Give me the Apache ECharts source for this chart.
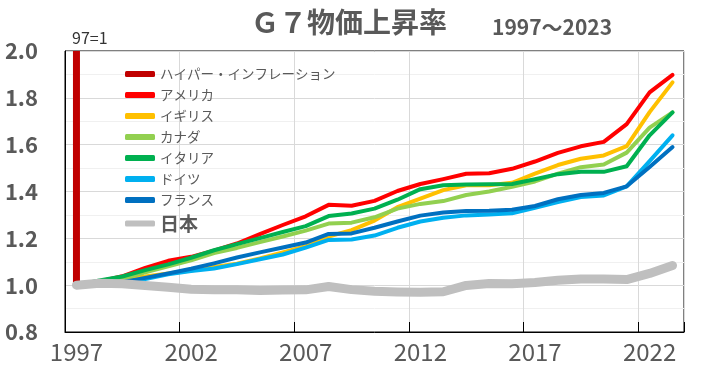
<!DOCTYPE html>
<html>
<head>
<meta charset="utf-8">
<script src="https://cdn.jsdelivr.net/npm/echarts@6/dist/echarts.min.js"></script>
<style>
html,body{margin:0;padding:0;background:#fff;}
#chart{width:705px;height:379px;}
</style>
</head>
<body>
<div id="chart"></div>
<script>
const years = ['1997','1998','1999','2000','2001','2002','2003','2004','2005','2006','2007','2008','2009','2010','2011','2012','2013','2014','2015','2016','2017','2018','2019','2020','2021','2022','2023'];
const seriesNames = ['ハイパー・インフレーション','アメリカ','イギリス','カナダ','イタリア','ドイツ','フランス','日本'];
const hyper = [1.0, 2.0];
const us = [1.000,1.016,1.038,1.074,1.104,1.121,1.147,1.178,1.218,1.257,1.294,1.343,1.339,1.360,1.402,1.432,1.453,1.476,1.478,1.497,1.528,1.565,1.593,1.612,1.688,1.823,1.898];
const uk = [1.000,1.016,1.029,1.037,1.050,1.063,1.078,1.092,1.114,1.140,1.166,1.208,1.235,1.276,1.333,1.370,1.406,1.427,1.427,1.437,1.476,1.513,1.540,1.554,1.594,1.739,1.866];
const canada = [1.000,1.010,1.027,1.055,1.081,1.106,1.137,1.159,1.184,1.208,1.233,1.263,1.267,1.290,1.327,1.347,1.359,1.385,1.400,1.420,1.443,1.476,1.504,1.515,1.566,1.673,1.738];
const italy = [1.000,1.020,1.037,1.064,1.089,1.117,1.149,1.175,1.201,1.227,1.252,1.295,1.306,1.327,1.365,1.410,1.427,1.430,1.431,1.432,1.452,1.474,1.484,1.484,1.508,1.640,1.738];
const germany = [1.000,1.006,1.012,1.026,1.046,1.060,1.071,1.090,1.111,1.131,1.160,1.193,1.195,1.212,1.245,1.272,1.288,1.298,1.302,1.307,1.330,1.355,1.376,1.383,1.422,1.530,1.640];
const france = [1.000,1.007,1.013,1.031,1.050,1.070,1.093,1.118,1.140,1.161,1.182,1.219,1.221,1.245,1.272,1.297,1.310,1.317,1.318,1.322,1.338,1.367,1.385,1.394,1.422,1.505,1.590];
const japan = [1.000,1.008,1.006,0.999,0.991,0.983,0.980,0.980,0.977,0.979,0.980,0.994,0.981,0.974,0.971,0.970,0.972,0.999,1.007,1.006,1.011,1.021,1.026,1.026,1.024,1.050,1.084];
const yTicks = {min: 0.8, max: 2.0, interval: 0.2};

const colors = ['#c00000','#ff0000','#ffc000','#92d050','#00b050','#00b0f0','#0070c0','#bfbfbf'];
const FONT = '"Noto Sans CJK JP", "Noto Sans", sans-serif';

function lineSeries(name, data, color, width, cap) {
  return {
    name: name, type: 'line', data: data, symbol: 'none', color: color,
    lineStyle: {width: width, color: color, cap: cap || 'round', join: 'round'},
    emphasis: {disabled: true}, animation: false
  };
}

const chart = echarts.init(document.getElementById('chart'));
chart.setOption({
  animation: false,
  textStyle: {fontFamily: FONT},
  title: [
    {text: 'Ｇ７物価上昇率', left: 246, top: 3, textStyle: {fontFamily: FONT, fontSize: 28, fontWeight: 'bold', color: '#595959'}},
    {text: '1997～2023', left: 487, top: 12, textStyle: {fontFamily: FONT, fontSize: 21, fontWeight: 'bold', color: '#595959'}},
    {text: '97=1', left: 67, top: 25, textStyle: {fontFamily: FONT, fontSize: 16, fontWeight: 'normal', color: '#333333'}}
  ],
  legend: {
    orient: 'vertical', left: 120, top: 62, itemGap: 7, itemWidth: 30, itemHeight: 6,
    icon: 'roundRect',
    textStyle: {fontFamily: FONT, fontSize: 13.5, color: '#595959', lineHeight: 14},
    data: seriesNames.map(n => n === '日本'
      ? {name: n, textStyle: {fontSize: 19, fontWeight: 'bold', color: '#595959', lineHeight: 14}}
      : {name: n})
  },
  grid: {left: 65, right: 21, top: 51, bottom: 47, show: true, borderColor: '#000', borderWidth: 1, containLabel: false},
  xAxis: {
    type: 'category', data: years, boundaryGap: true,
    axisLine: {show: true, lineStyle: {color: '#000', width: 1}},
    axisTick: {show: true, inside: true, length: 10, interval: 4, lineStyle: {color: '#000'}},
    axisLabel: {interval: 4, fontFamily: FONT, fontSize: 24, color: '#595959', margin: 8},
    splitLine: {show: true, interval: 4, lineStyle: {color: '#d9d9d9', width: 1}}
  },
  yAxis: {
    type: 'value', min: yTicks.min, max: yTicks.max, interval: yTicks.interval,
    axisLine: {show: true, lineStyle: {color: '#000'}},
    axisTick: {show: false},
    axisLabel: {fontFamily: FONT, fontSize: 22, fontWeight: 'bold', color: '#595959', margin: 27,
      formatter: v => v.toFixed(1)},
    splitLine: {show: true, lineStyle: {color: '#d9d9d9', width: 1}},
    minorTick: {show: false, splitNumber: 2},
    minorSplitLine: {show: true, lineStyle: {color: '#f0f0f0', width: 1}}
  },
  series: [
    Object.assign(lineSeries(seriesNames[0], hyper.map(v => [years[0], v]), colors[0], 7, 'butt'), {clip: true}),
    lineSeries(seriesNames[1], us, colors[1], 4),
    lineSeries(seriesNames[2], uk, colors[2], 4),
    lineSeries(seriesNames[3], canada, colors[3], 4),
    lineSeries(seriesNames[4], italy, colors[4], 4),
    lineSeries(seriesNames[5], germany, colors[5], 4),
    lineSeries(seriesNames[6], france, colors[6], 4),
    lineSeries(seriesNames[7], japan, colors[7], 9)
  ]
});
</script>
</body>
</html>
